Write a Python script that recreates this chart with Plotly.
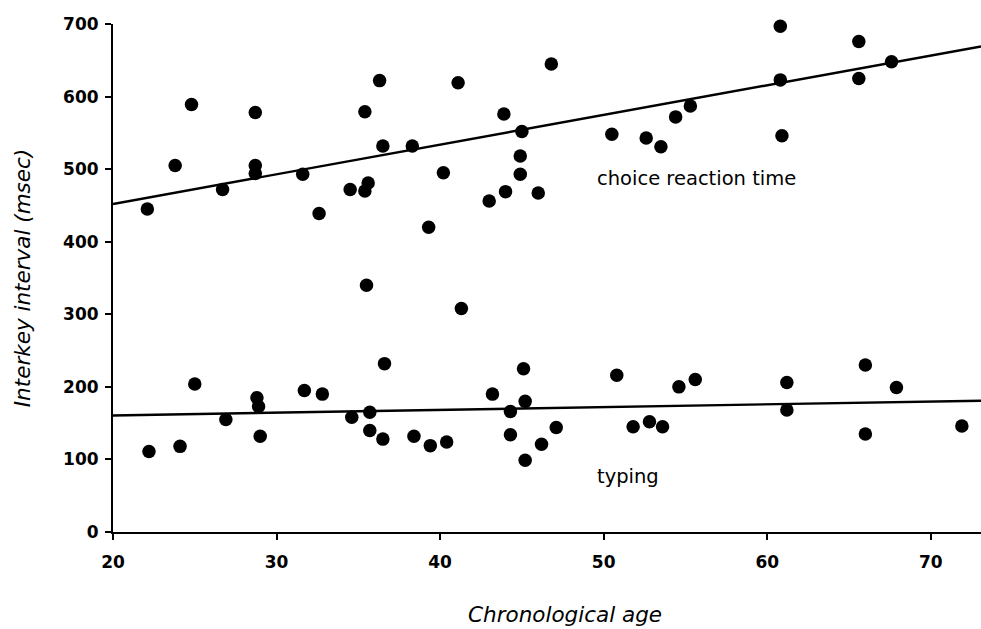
import numpy as np
import plotly.graph_objects as go

# Choice reaction time: age (years) and interkey interval (msec)
crt_age = [22.1, 23.8, 24.8, 26.7, 28.7, 28.7, 28.7, 31.6, 32.6,
           34.5, 35.4, 35.4, 35.6, 35.5, 36.3, 36.5, 38.3, 39.3, 40.2,
           41.1, 41.3, 43.0, 44.0, 43.9, 44.9, 44.9, 45.0, 46.0, 46.8,
           50.5, 52.6, 53.5, 54.4, 55.3, 60.8, 60.8, 60.9, 65.6, 65.6, 67.6]
crt_msec = [445, 505, 589, 472, 578, 505, 494, 493, 439,
            472, 579, 470, 481, 340, 622, 532, 532, 420, 495,
            619, 308, 456, 469, 576, 518, 493, 552, 467, 645,
            548, 543, 531, 572, 587, 697, 623, 546, 676, 625, 648]

# Typing: age (years) and interkey interval (msec)
typ_age = [22.2, 24.1, 25.0, 26.9, 28.8, 28.9, 29.0, 31.7, 32.8,
           34.6, 35.7, 35.7, 36.5, 36.6, 38.4, 39.4, 40.4, 43.2, 44.3,
           44.3, 45.1, 45.2, 45.2, 46.2, 47.1, 50.8, 51.8, 52.8, 53.6,
           54.6, 55.6, 61.2, 61.2, 66.0, 66.0, 67.9, 71.9]
typ_msec = [111, 118, 204, 155, 185, 173, 132, 195, 190,
            158, 165, 140, 128, 232, 132, 119, 124, 190, 166,
            134, 225, 180, 99, 121, 144, 216, 145, 152, 145,
            200, 210, 206, 168, 230, 135, 199, 146]

# Fitted lines: value at age 20 and slope per year
crt_fit = (452.0, 4.09)
typ_fit = (160.6, 0.383)

x_range = [20, 73.07]
y_range = [0, 700]
x_ticks = [20, 30, 40, 50, 60, 70]
y_ticks = [0, 100, 200, 300, 400, 500, 600, 700]

FONT = "DejaVu Sans"
BLACK = "#000000"


def fit_line(fit):
    xs = np.array(x_range)
    return xs, fit[0] + fit[1] * (xs - 20)


fig = go.Figure()

for fit in (crt_fit, typ_fit):
    lx, ly = fit_line(fit)
    fig.add_trace(go.Scatter(x=lx, y=ly, mode="lines",
                             line=dict(color=BLACK, width=2.4),
                             hoverinfo="skip", showlegend=False))

for ages, vals, name in ((crt_age, crt_msec, "choice reaction time"),
                         (typ_age, typ_msec, "typing")):
    fig.add_trace(go.Scatter(x=ages, y=vals, mode="markers", name=name,
                             marker=dict(color=BLACK, size=13.5, line=dict(width=0)),
                             cliponaxis=False, showlegend=False))

# Series labels
fig.add_annotation(x=49.45, y=487, text="choice reaction time", showarrow=False,
                   xanchor="left", yanchor="middle",
                   font=dict(family=FONT, size=19.5, color=BLACK))
fig.add_annotation(x=49.5, y=77, text="typing", showarrow=False,
                   xanchor="left", yanchor="middle",
                   font=dict(family=FONT, size=19.5, color=BLACK))

# x-axis title
fig.add_annotation(xref="paper", yref="paper", x=0.5207, y=-0.163,
                   text="<i>Chronological age</i>", showarrow=False,
                   xanchor="center", yanchor="middle",
                   font=dict(family=FONT, size=21.5, color=BLACK))

axis_common = dict(showgrid=False, zeroline=False, showline=True,
                   linecolor=BLACK, linewidth=2, ticks="outside",
                   ticklen=6, tickwidth=2, tickcolor=BLACK,
                   tickfont=dict(family=FONT, size=17, color=BLACK, weight="bold"))

fig.update_xaxes(range=x_range, tickvals=x_ticks, ticklabelstandoff=8,
                 **axis_common)
fig.update_yaxes(range=y_range, tickvals=y_ticks, ticklabelstandoff=3,
                 title=dict(text="<i>Interkey interval (msec)</i>", standoff=27,
                            font=dict(family=FONT, size=21.5, color=BLACK)),
                 **axis_common)

fig.update_layout(width=981, height=629,
                  margin=dict(l=113, r=0, t=24, b=97),
                  plot_bgcolor="white", paper_bgcolor="white")

fig.write_html("out.html")
